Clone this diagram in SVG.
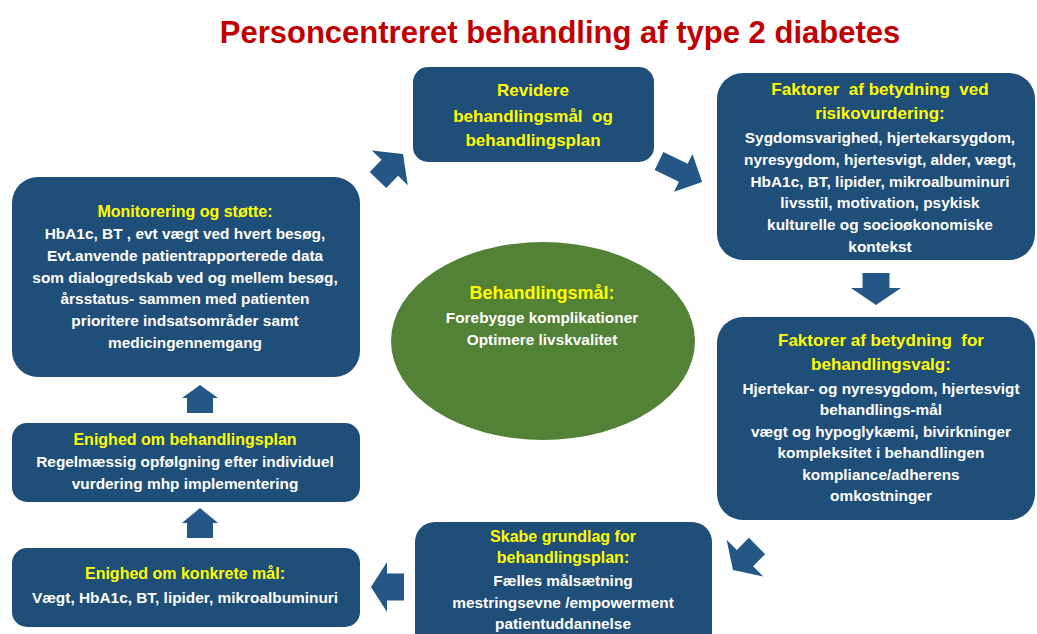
<svg xmlns="http://www.w3.org/2000/svg" width="1037" height="634" viewBox="0 0 1037 634">
  <defs>
    <style>
      .box { fill: #1F4E79; }
      .arrow { fill: #245785; }
      .goal { fill: #538135; }
      text { font-family: "Liberation Sans", Arial, sans-serif; font-weight: bold; text-anchor: middle; }
      .title { fill: #C00000; font-size: 31px; }
      .head { fill: #FFFF00; font-size: 16px; }
      .head-lg { font-size: 17px; }
      .body { fill: #FFFFFF; font-size: 15.4px; }
    </style>
  </defs>

  <rect width="1037" height="634" fill="#FFFFFF"/>

  <text class="title" x="560" y="43">Personcentreret behandling af type 2 diabetes</text>

  <g id="connectors">
    <!-- monitoring -> revise -->
    <path class="arrow" d="M0,-11.5 L17,-11.5 L17,-25 L36,0 L17,25 L17,11.5 L0,11.5 Z" transform="translate(378,180) rotate(-46)"/>
    <!-- revise -> risk factors -->
    <path class="arrow" d="M0,-10 L27,-10 L27,-21 L48,0 L27,21 L27,10 L0,10 Z" transform="translate(659,161) rotate(26)"/>
    <!-- risk factors -> treatment choice -->
    <path class="arrow" d="M0,-13.5 L15,-13.5 L15,-25 L32,0 L15,25 L15,13.5 L0,13.5 Z" transform="translate(876,273) rotate(90)"/>
    <!-- treatment choice -> basis for plan -->
    <path class="arrow" d="M0,-11.5 L17,-11.5 L17,-26 L34,0 L17,26 L17,11.5 L0,11.5 Z" transform="translate(757,546) rotate(135)"/>
    <!-- basis for plan -> concrete goals -->
    <path class="arrow" d="M0,-13.5 L17,-13.5 L17,-25 L33,0 L17,25 L17,13.5 L0,13.5 Z" transform="translate(404,587) rotate(180)"/>
    <!-- concrete goals -> agreed plan -->
    <path class="arrow" d="M187,538 L213,538 L213,523 L218,523 L200,508 L182,523 L187,523 Z"/>
    <!-- agreed plan -> monitoring -->
    <path class="arrow" d="M187,413 L213,413 L213,398 L218,398 L200,385 L182,398 L187,398 Z"/>
  </g>

  <g id="goal">
    <ellipse class="goal" cx="543" cy="341" rx="152" ry="99"/>
    <text class="head" x="542" y="299" style="font-size:18px">Behandlingsmål:</text>
    <text class="body" x="542" y="323">Forebygge komplikationer</text>
    <text class="body" x="542" y="345">Optimere livskvalitet</text>
  </g>

  <g id="revise">
    <rect class="box" x="413" y="67" width="241" height="95" rx="15"/>
    <text class="head head-lg" x="533" y="96">Revidere</text>
    <text class="head head-lg" x="533" y="122" xml:space="preserve">behandlingsmål  og</text>
    <text class="head head-lg" x="533" y="146">behandlingsplan</text>
  </g>

  <g id="risk-factors">
    <rect class="box" x="717" y="73" width="318" height="187" rx="26"/>
    <text class="head head-lg" x="880" y="95" xml:space="preserve">Faktorer  af betydning  ved</text>
    <text class="head head-lg" x="880" y="119">risikovurdering:</text>
    <text class="body" x="880" y="143">Sygdomsvarighed, hjertekarsygdom,</text>
    <text class="body" x="880" y="165">nyresygdom, hjertesvigt, alder, vægt,</text>
    <text class="body" x="880" y="187">HbA1c, BT, lipider, mikroalbuminuri</text>
    <text class="body" x="880" y="208">livsstil, motivation, psykisk</text>
    <text class="body" x="880" y="230">kulturelle og socioøkonomiske</text>
    <text class="body" x="880" y="252">kontekst</text>
  </g>

  <g id="treatment-choice">
    <rect class="box" x="717" y="317" width="318" height="203" rx="26"/>
    <text class="head head-lg" x="881" y="346" xml:space="preserve">Faktorer af betydning  for</text>
    <text class="head head-lg" x="881" y="370">behandlingsvalg:</text>
    <text class="body" x="881" y="394">Hjertekar- og nyresygdom, hjertesvigt</text>
    <text class="body" x="881" y="415">behandlings-mål</text>
    <text class="body" x="881" y="437">vægt og hypoglykæmi, bivirkninger</text>
    <text class="body" x="881" y="458">kompleksitet i behandlingen</text>
    <text class="body" x="881" y="480">kompliance/adherens</text>
    <text class="body" x="881" y="501">omkostninger</text>
  </g>

  <g id="basis-for-plan">
    <rect class="box" x="415" y="522" width="297" height="140" rx="20"/>
    <text class="head" x="563" y="542">Skabe grundlag for</text>
    <text class="head" x="563" y="563">behandlingsplan:</text>
    <text class="body" x="563" y="586">Fælles målsætning</text>
    <text class="body" x="563" y="608">mestringsevne /empowerment</text>
    <text class="body" x="563" y="629">patientuddannelse</text>
  </g>

  <g id="concrete-goals">
    <rect class="box" x="12" y="548" width="348" height="79" rx="15"/>
    <text class="head" x="185" y="579">Enighed om konkrete mål:</text>
    <text class="body" x="185" y="603">Vægt, HbA1c, BT, lipider, mikroalbuminuri</text>
  </g>

  <g id="agreed-plan">
    <rect class="box" x="12" y="423" width="348" height="79" rx="15"/>
    <text class="head" x="185" y="445">Enighed om behandlingsplan</text>
    <text class="body" x="185" y="467">Regelmæssig opfølgning efter individuel</text>
    <text class="body" x="185" y="489">vurdering mhp implementering</text>
  </g>

  <g id="monitoring">
    <rect class="box" x="12" y="177" width="348" height="200" rx="26"/>
    <text class="head" x="185" y="217">Monitorering og støtte:</text>
    <text class="body" x="185" y="239">HbA1c, BT , evt vægt ved hvert besøg,</text>
    <text class="body" x="185" y="261">Evt.anvende patientrapporterede data</text>
    <text class="body" x="185" y="283">som dialogredskab ved og mellem besøg,</text>
    <text class="body" x="185" y="304">årsstatus- sammen med patienten</text>
    <text class="body" x="185" y="326">prioritere indsatsområder samt</text>
    <text class="body" x="185" y="348">medicingennemgang</text>
  </g>
</svg>
